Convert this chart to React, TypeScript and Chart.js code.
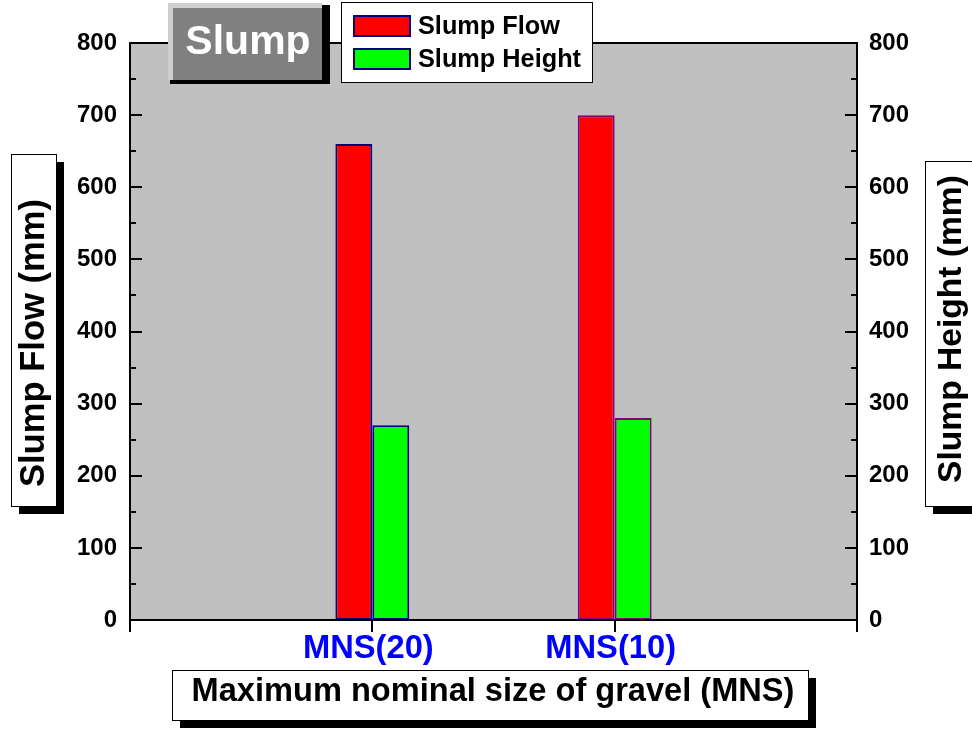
import React, { useEffect, useRef } from 'react';
import { Chart, registerables } from 'chart.js';

Chart.register(...registerables);

// ---- data ----
const categories: string[] = ['', 'MNS(20)', 'MNS(10)', ''];
const slumpFlow: (number | null)[] = [null, 660, 700, null];
const slumpHeight: (number | null)[] = [null, 270, 280, null];
const barBorderColors: (string | null)[] = [null, '#000080', '#800080', null];
const seriesNames: string[] = ['Slump Flow', 'Slump Height'];
const seriesColors: string[] = ['#ff0000', '#00ff00'];
const yMin = 0;
const yMax = 800;
const yStep = 100;
const yMinorStep = 50;
const chartTitle = 'Slump';
const xTitle = 'Maximum nominal size of gravel (MNS)';
const yLeftTitle = 'Slump Flow (mm)';
const yRightTitle = 'Slump Height (mm)';

const FONT = "'Liberation Sans', Arial, Helvetica, sans-serif";

const decorPlugin = {
  id: 'decor',
  beforeDraw(chart: any) {
    const { ctx, chartArea } = chart;
    ctx.save();
    ctx.fillStyle = '#ffffff';
    ctx.fillRect(0, 0, chart.width, chart.height);
    ctx.fillStyle = '#c0c0c0';
    ctx.fillRect(chartArea.left, chartArea.top, chartArea.right - chartArea.left, chartArea.bottom - chartArea.top);
    ctx.restore();
  },
  afterDraw(chart: any) {
    const { ctx, chartArea } = chart;
    const { left, right, top, bottom } = chartArea;
    const ys = chart.scales.y;
    const ys1 = chart.scales.y1;
    const xs = chart.scales.x;
    ctx.save();
    ctx.strokeStyle = '#000000';
    ctx.lineWidth = 2;
    // frame
    ctx.strokeRect(left, top, right - left, bottom - top);
    // y ticks (inward)
    ctx.beginPath();
    for (let v = yMin; v <= yMax; v += yMinorStep) {
      const major = v % yStep === 0;
      const len = major ? 12 : 6;
      const yl = Math.round(ys.getPixelForValue(v));
      ctx.moveTo(left, yl);
      ctx.lineTo(left + len, yl);
      const yr = Math.round(ys1.getPixelForValue(v));
      ctx.moveTo(right, yr);
      ctx.lineTo(right - len, yr);
    }
    // x ticks (outward)
    for (let i = 0; i < categories.length; i++) {
      const x = Math.round(xs.getPixelForValue(i));
      ctx.moveTo(x, bottom);
      ctx.lineTo(x, bottom + 12);
    }
    ctx.stroke();

    // ---- "Slump" title box ----
    ctx.fillStyle = '#000000';
    ctx.fillRect(170, 5, 160, 79);
    ctx.fillStyle = '#cfcfcf';
    ctx.fillRect(168, 3, 154, 77);
    ctx.fillStyle = '#808080';
    ctx.fillRect(173, 8, 149, 72);
    ctx.fillStyle = '#ffffff';
    ctx.font = `bold 41px ${FONT}`;
    ctx.textAlign = 'center';
    ctx.textBaseline = 'alphabetic';
    ctx.fillText(chartTitle, 248, 54);

    // ---- legend ----
    ctx.fillStyle = '#ffffff';
    ctx.fillRect(341, 3, 251, 80);
    ctx.lineWidth = 1;
    ctx.strokeStyle = '#000000';
    ctx.strokeRect(341.5, 2.5, 251, 80);
    const datasets = chart.data.datasets;
    datasets.forEach((ds: any, i: number) => {
      const sy = 15 + i * 33;
      ctx.fillStyle = ds.backgroundColor;
      ctx.fillRect(353, sy, 58, 22);
      ctx.strokeStyle = '#000080';
      ctx.lineWidth = 2;
      ctx.strokeRect(354, sy + 1, 56, 20);
      ctx.fillStyle = '#000000';
      ctx.font = `bold 25.3px ${FONT}`;
      ctx.textAlign = 'left';
      ctx.textBaseline = 'middle';
      ctx.fillText(ds.label, 418, sy + 12);
    });

    // ---- boxes with shadow ----
    const shadowBox = (x: number, y: number, w: number, h: number) => {
      ctx.fillStyle = '#000000';
      ctx.fillRect(x + 8, y + 8, w, h);
      ctx.fillStyle = '#ffffff';
      ctx.fillRect(x, y, w, h);
      ctx.strokeStyle = '#000000';
      ctx.lineWidth = 1;
      ctx.strokeRect(x + 0.5, y + 0.5, w, h);
    };

    // left y title
    shadowBox(11, 154, 45, 352);
    ctx.save();
    ctx.translate(44, 343);
    ctx.rotate(-Math.PI / 2);
    ctx.fillStyle = '#000000';
    ctx.font = `bold 34.6px ${FONT}`;
    ctx.textAlign = 'center';
    ctx.textBaseline = 'alphabetic';
    ctx.fillText(yLeftTitle, 0, 0);
    ctx.restore();

    // right y title
    shadowBox(925, 161, 60, 345);
    ctx.save();
    ctx.translate(961, 329);
    ctx.rotate(-Math.PI / 2);
    ctx.fillStyle = '#000000';
    ctx.font = `bold 33.6px ${FONT}`;
    ctx.textAlign = 'center';
    ctx.textBaseline = 'alphabetic';
    ctx.fillText(yRightTitle, 0, 0);
    ctx.restore();

    // x title
    shadowBox(172, 670, 636, 50);
    ctx.fillStyle = '#000000';
    ctx.font = `bold 32.6px ${FONT}`;
    ctx.textAlign = 'center';
    ctx.textBaseline = 'alphabetic';
    ctx.fillText(xTitle, 493, 701);

    ctx.restore();
  },
};

export default function App() {
  const canvasRef = useRef<HTMLCanvasElement | null>(null);

  useEffect(() => {
    const canvas = canvasRef.current;
    if (!canvas) return;
    const chart = new Chart(canvas, {
      type: 'bar',
      data: {
        labels: categories,
        datasets: [
          {
            label: seriesNames[0],
            data: slumpFlow,
            backgroundColor: seriesColors[0],
            borderColor: barBorderColors as any,
            borderWidth: 2,
            borderSkipped: false,
            yAxisID: 'y',
            categoryPercentage: 0.305,
            barPercentage: 1,
          },
          {
            label: seriesNames[1],
            data: slumpHeight,
            backgroundColor: seriesColors[1],
            borderColor: barBorderColors as any,
            borderWidth: 2,
            borderSkipped: false,
            yAxisID: 'y1',
            categoryPercentage: 0.305,
            barPercentage: 1,
          },
        ],
      },
      options: {
        responsive: false,
        animation: false,
        events: [],
        layout: { padding: { top: 43, left: 0, right: 0, bottom: 0 } },
        plugins: {
          legend: { display: false },
          tooltip: { enabled: false },
          title: { display: false },
        },
        scales: {
          x: {
            type: 'category',
            position: 'bottom',
            offset: false,
            grid: { display: false, drawTicks: false },
            border: { display: false },
            ticks: {
              autoSkip: false,
              maxRotation: 0,
              minRotation: 0,
              padding: 9,
              labelOffset: -4,
              color: '#0000ff',
              font: { family: FONT, size: 32.7, weight: 'bold' },
            },
            afterFit: (s: any) => {
              s.height = 110;
            },
          },
          y: {
            position: 'left',
            min: yMin,
            max: yMax,
            grid: { display: false, drawTicks: false },
            border: { display: false },
            ticks: {
              stepSize: yStep,
              padding: 13,
              color: '#000000',
              font: { family: FONT, size: 24, weight: 'bold' },
            },
            afterFit: (s: any) => {
              s.width = 130;
            },
          },
          y1: {
            position: 'right',
            min: yMin,
            max: yMax,
            grid: { display: false, drawTicks: false },
            border: { display: false },
            ticks: {
              stepSize: yStep,
              padding: 12,
              color: '#000000',
              font: { family: FONT, size: 24, weight: 'bold' },
            },
            afterFit: (s: any) => {
              s.width = 115;
            },
          },
        },
      } as any,
      plugins: [decorPlugin],
    });
    return () => {
      chart.destroy();
    };
  }, []);

  return (
    <div style={{ position: 'fixed', left: 0, top: 0, width: 972, height: 730, background: '#ffffff' }}>
      <canvas ref={canvasRef} width={972} height={730} style={{ display: 'block', width: 972, height: 730 }} />
    </div>
  );
}
